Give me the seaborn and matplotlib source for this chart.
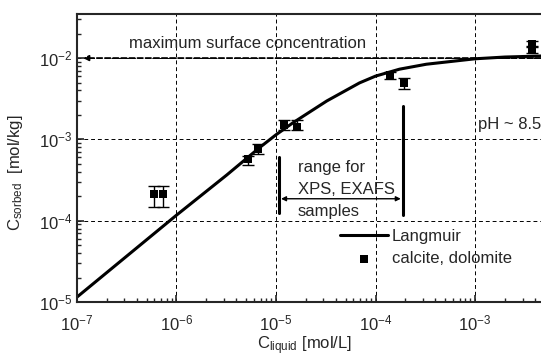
import numpy as np
import pandas as pd
import matplotlib
matplotlib.use("Agg")
import matplotlib.pyplot as plt
import matplotlib.ticker as ticker
import seaborn as sns

# --- Data ---
# Langmuir isotherm curve
curve_x = [1.0e-7, 1.0e-6, 3.2e-6, 6.9e-6, 1.0e-5, 1.48e-5, 3.24e-5, 6.9e-5,
           1.0e-4, 1.74e-4, 3.24e-4, 1.0e-3, 2.0e-3, 4.6e-3]
curve_y = [1.15e-5, 1.17e-4, 3.65e-4, 8.0e-4, 1.14e-3, 1.6e-3, 2.97e-3, 4.95e-3,
           6.0e-3, 7.3e-3, 8.4e-3, 9.8e-3, 1.03e-2, 1.06e-2]

# calcite, dolomite measurements with error limits
pts_x = [5.9e-7, 7.3e-7, 5.2e-6, 6.6e-6, 1.2e-5, 1.63e-5, 1.39e-4, 1.92e-4, 3.7e-3, 3.7e-3]
pts_y = [2.15e-4, 2.15e-4, 5.7e-4, 7.6e-4, 1.5e-3, 1.42e-3, 6.2e-3, 4.96e-3, 1.48e-2, 1.3e-2]
pts_lo = [1.49e-4, 1.49e-4, 4.8e-4, 6.7e-4, 1.29e-3, 1.29e-3, 5.5e-3, 4.2e-3, 1.35e-2, 1.15e-2]
pts_hi = [2.7e-4, 2.7e-4, 6.3e-4, 8.7e-4, 1.73e-3, 1.73e-3, 6.8e-3, 5.7e-3, 1.62e-2, 1.42e-2]

q_max = 1.0e-2
xps_range = [1.07e-5, 1.87e-4]

df_curve = pd.DataFrame({"c_liq": curve_x, "c_sorb": curve_y})
df_pts = pd.DataFrame({"c_liq": pts_x, "c_sorb": pts_y})

# --- Style ---
sns.set_style("ticks")
plt.rcParams["font.family"] = ["Liberation Sans", "DejaVu Sans"]
plt.rcParams["mathtext.fontset"] = "custom"
plt.rcParams["mathtext.rm"] = "Liberation Sans"
plt.rcParams["mathtext.default"] = "regular"

fig = plt.figure(figsize=(5.41, 3.57), dpi=100)
ax = fig.add_axes([0.1423, 0.154, 0.8577, 0.807])

# --- Plot ---
sns.lineplot(data=df_curve, x="c_liq", y="c_sorb", color="black", lw=2.2,
             sort=False, estimator=None, ax=ax, label="Langmuir")
yerr = [np.array(pts_y) - np.array(pts_lo), np.array(pts_hi) - np.array(pts_y)]
ax.errorbar(pts_x, pts_y, yerr=yerr, fmt="none", ecolor="black", elinewidth=1,
            capsize=4.5, capthick=1)
sns.scatterplot(data=df_pts, x="c_liq", y="c_sorb", marker="s", color="black",
                s=32, edgecolor="black", linewidth=0, ax=ax, label="calcite, dolomite",
                zorder=5)

ax.set_xscale("log")
ax.set_yscale("log")
ax.set_xlim(1e-7, 10 ** -2.337)
ax.set_ylim(1e-5, 10 ** -1.457)

# maximum surface concentration arrow
ax.annotate("", xy=(1.15e-7, q_max), xytext=(10 ** -2.337, q_max),
            arrowprops=dict(arrowstyle="-|>", ls=(0, (3, 1.5)), lw=1.3, color="black",
                            shrinkA=0, shrinkB=0, mutation_scale=8))
ax.text(10 ** -5.29, 10 ** -1.815, "maximum surface concentration", fontsize=12,
        ha="center", va="center")
ax.text(10 ** -2.97, 10 ** -2.815, "pH ~ 8.5", fontsize=12, ha="left", va="center")

# XPS / EXAFS range markers
ax.plot([xps_range[0], xps_range[0]], [10 ** -3.22, 10 ** -3.9], color="black", lw=2.2)
ax.plot([xps_range[1], xps_range[1]], [10 ** -2.59, 10 ** -3.93], color="black", lw=2.2)
ax.annotate("", xy=(xps_range[0] * 1.05, 10 ** -3.73), xytext=(xps_range[1] * 0.96, 10 ** -3.73),
            arrowprops=dict(arrowstyle="<|-|>", lw=1.0, color="black",
                            shrinkA=0, shrinkB=0, mutation_scale=7))
ax.text(10 ** -4.78, 10 ** -3.346, "range for", fontsize=12, ha="left", va="center")
ax.text(10 ** -4.78, 10 ** -3.617, "XPS, EXAFS", fontsize=12, ha="left", va="center")
ax.text(10 ** -4.78, 10 ** -3.889, "samples", fontsize=12, ha="left", va="center")

# Axes, ticks, grid
ax.xaxis.set_major_locator(ticker.LogLocator(base=10, numticks=10))
ax.xaxis.set_minor_locator(ticker.LogLocator(base=10, subs=np.arange(2, 10), numticks=20))
ax.yaxis.set_major_locator(ticker.LogLocator(base=10, numticks=10))
ax.yaxis.set_minor_locator(ticker.LogLocator(base=10, subs=np.arange(2, 10), numticks=20))
ax.tick_params(which="both", direction="in", top=False, right=False, labelsize=12)
ax.tick_params(which="major", length=5, width=1.2)
ax.tick_params(axis="x", which="major", pad=8)
ax.tick_params(axis="y", which="major", pad=3)
ax.tick_params(which="minor", length=3, width=1.0)
ax.grid(which="major", linestyle=(0, (4, 3)), color="black", lw=0.7)
ax.spines["right"].set_visible(False)
for s in ["left", "bottom", "top"]:
    ax.spines[s].set_linewidth(1.5)

ax.set_xlabel(r"C$_{\mathrm{liquid}}$ [mol/L]", fontsize=12)
ax.set_ylabel(r"C$_{\mathrm{sorbed}}$  [mol/kg]", fontsize=12)
ax.xaxis.set_label_coords(0.49, -0.112)
ax.yaxis.set_label_coords(-0.112, 0.45)

leg = ax.legend(loc="upper left", bbox_to_anchor=(0.567, 0.255), frameon=False,
                fontsize=12, handlelength=2.9, handletextpad=0.2, labelspacing=0.45,
                borderaxespad=0, borderpad=0)

fig.savefig("out.png", dpi=100)
